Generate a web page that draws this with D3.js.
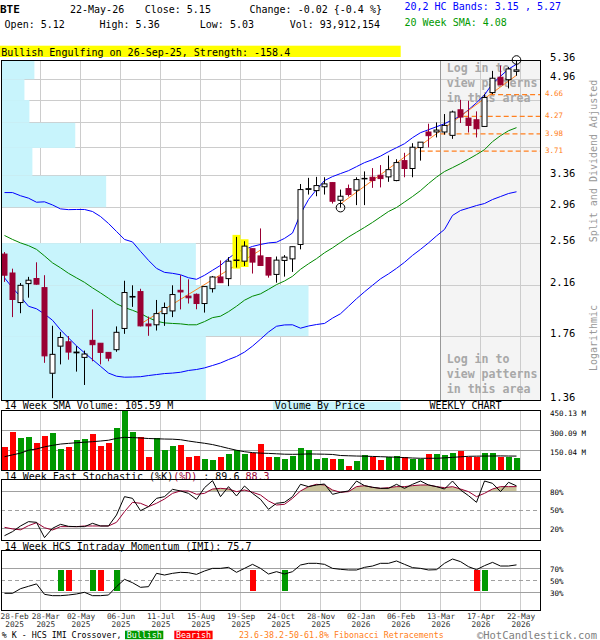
<!DOCTYPE html>
<html>
<head>
<meta charset="utf-8">
<script src="https://cdn.jsdelivr.net/npm/d3@7"></script>
<style>
  body { margin: 0; background: #fff; }
  svg { display: block; }
</style>
</head>
<body>
<script>
// Weekly bars, 28-Feb-2025 .. 22-May-2026 (65 weeks)
const opens  = [2.45, 2.27, 2.015, 2.175, 2.22, 2.14, 1.515, 1.69, 1.72, 1.645,
                1.615, 1.73, 1.71, 1.648, 1.666, 1.815, 2.06, 2.106, 1.848, 1.842,
                1.927, 1.948, 2.117, 2.068, 2.083, 2.007, 2.131, 2.234, 2.219, 2.39,
                2.381, 2.504, 2.432, 2.416, 2.257, 2.388, 2.403, 2.547, 3.18, 3.165,
                3.214, 3.269, 3.044, 3.191, 3.17, 3.32, 3.34, 3.367, 3.345, 3.296,
                3.572, 3.46, 3.765, 4.009, 4.01, 4.009, 3.955, 4.385, 4.24, 4.212,
                4.10, 4.70, 5.00, 4.95, 5.12];
const highs  = [2.47, 2.31, 2.18, 2.235, 2.37, 2.25, 1.835, 1.79, 1.76, 1.69,
                1.66, 1.96, 1.71, 1.65, 1.83, 2.20, 2.16, 2.13, 1.904, 2.036,
                2.015, 2.16, 2.25, 2.213, 2.09, 2.15, 2.243, 2.388, 2.42, 2.626,
                2.58, 2.505, 2.717, 2.417, 2.426, 2.44, 2.525, 3.25, 3.332, 3.345,
                3.34, 3.273, 3.178, 3.243, 3.34, 3.42, 3.466, 3.508, 3.645, 3.592,
                3.686, 3.832, 3.85, 4.145, 4.167, 4.31, 4.37, 4.565, 4.547, 4.357,
                4.67, 5.13, 5.24, 5.21, 5.36];
const lows   = [2.19, 1.90, 1.93, 2.055, 2.165, 1.58, 1.37, 1.57, 1.60, 1.525,
                1.445, 1.59, 1.57, 1.59, 1.652, 1.776, 1.98, 1.83, 1.762, 1.80,
                1.834, 1.90, 1.96, 2.007, 1.961, 1.935, 2.098, 2.18, 2.153, 2.32,
                2.335, 2.265, 2.335, 2.228, 2.183, 2.237, 2.28, 2.497, 3.115, 3.094,
                3.115, 3.004, 2.955, 3.09, 2.985, 2.985, 3.20, 3.206, 3.279, 3.287,
                3.34, 3.34, 3.572, 3.768, 3.922, 3.966, 3.90, 4.157, 4.00, 3.922,
                4.10, 4.67, 4.84, 4.78, 5.03];
const closes = [2.25, 2.04, 2.16, 2.205, 2.17, 1.625, 1.635, 1.75, 1.65, 1.65,
                1.637, 1.70, 1.648, 1.61, 1.787, 2.098, 2.065, 1.834, 1.834, 1.927,
                1.975, 2.081, 2.103, 2.054, 2.007, 2.149, 2.234, 2.183, 2.381, 2.392,
                2.53, 2.372, 2.34, 2.251, 2.391, 2.42, 2.524, 3.178, 3.19, 3.23,
                3.252, 3.032, 3.094, 3.115, 3.309, 3.325, 3.296, 3.322, 3.444, 3.544,
                3.46, 3.77, 3.848, 3.95, 4.04, 4.117, 4.346, 4.258, 4.117, 4.062,
                4.607, 4.98, 4.85, 5.17, 5.15];

// 20,2 HC bands and 20 week SMA
const bandUpper = [3.14, 3.14, 3.10, 3.07, 3.02, 3.025, 2.987, 2.94, 2.931, 2.933,
                   2.933, 2.909, 2.851, 2.772, 2.684, 2.599, 2.573, 2.477, 2.389, 2.313,
                   2.276, 2.267, 2.254, 2.227, 2.213, 2.249, 2.295, 2.341, 2.408, 2.467,
                   2.497, 2.527, 2.547, 2.563, 2.570, 2.610, 2.667, 2.88, 3.053, 3.178,
                   3.296, 3.349, 3.39, 3.43, 3.486, 3.543, 3.586, 3.637, 3.703, 3.763,
                   3.824, 3.918, 3.998, 4.046, 4.095, 4.145, 4.212, 4.272, 4.385, 4.51,
                   4.657, 4.873, 5.02, 5.166, 5.27];
const bandMid   = [2.641, 2.599, 2.563, 2.535, 2.497, 2.432, 2.365, 2.318, 2.267, 2.226,
                   2.186, 2.138, 2.095, 2.050, 2.005, 1.975, 1.953, 1.928, 1.895, 1.869,
                   1.856, 1.852, 1.849, 1.842, 1.842, 1.866, 1.896, 1.907, 1.942, 1.985,
                   2.034, 2.067, 2.087, 2.125, 2.166, 2.198, 2.240, 2.304, 2.356, 2.405,
                   2.463, 2.512, 2.568, 2.625, 2.676, 2.728, 2.784, 2.846, 2.909, 2.956,
                   3.022, 3.090, 3.165, 3.256, 3.342, 3.418, 3.472, 3.529, 3.593, 3.66,
                   3.733, 3.856, 3.95, 4.029, 4.08];
const bandLower = [2.226, 2.138, 2.063, 1.985, 1.965, 1.924, 1.876, 1.805, 1.747, 1.692,
                   1.645, 1.601, 1.558, 1.516, 1.497, 1.491, 1.492, 1.494, 1.501, 1.507,
                   1.513, 1.516, 1.521, 1.532, 1.538, 1.548, 1.563, 1.579, 1.601, 1.621,
                   1.650, 1.690, 1.738, 1.789, 1.831, 1.841, 1.842, 1.817, 1.833, 1.844,
                   1.852, 1.892, 1.926, 1.985, 2.046, 2.104, 2.160, 2.217, 2.262, 2.313,
                   2.37, 2.437, 2.497, 2.563, 2.636, 2.706, 2.863, 2.921, 2.95, 2.98,
                   3.004, 3.053, 3.09, 3.128, 3.15];

// volume in millions and its 14 week SMA
const volumes   = [177, 291, 245, 253, 207, 261, 283, 162, 177, 228,
                   238, 276, 185, 207, 321, 448, 291, 248, 101, 240,
                   152, 185, 192, 101, 106, 83.5, 76, 101, 121.5, 152,
                   121.5, 126.6, 197.4, 98.7, 98.7, 83.5, 108.9, 167, 152, 83.5,
                   91.1, 83.5, 83.5, 30.4, 68.3, 113.9, 96.2, 76, 96.2, 106.3,
                   96.2, 81, 81, 121.5, 121.5, 116.4, 129, 144.3, 98.7, 101,
                   132, 132, 101, 101, 94];
const volumeSma = [101, 115, 128, 150, 160, 176, 187, 197, 202, 207,
                   211, 215, 220, 226, 240, 248, 246, 243, 239, 237,
                   235, 234, 230, 220, 211, 203, 193, 179, 164, 150,
                   139, 132, 128, 126, 123, 120, 119, 120, 122, 121,
                   120, 118, 110, 108, 106, 105, 103, 101, 99, 97,
                   94, 91, 89, 89, 89, 92, 96, 100, 104, 105,
                   106, 106, 107, 106, 105.6];

// 14 week fast stochastic
const stochK = [7.9, 14.5, 23.8, 30.9, 29.8, 4.7, 20, 26.5, 23.2, 22.7,
                22.7, 28.2, 23.8, 23.8, 41.8, 71.9, 69.1, 48.9, 55.5, 69.1,
                71.9, 83.9, 81.2, 77.3, 67.5, 86.6, 98.1, 71.9, 88.3, 73,
                89.3, 77.3, 67.5, 51.1, 61, 62.6, 71.9, 92.1, 88.3, 91,
                92.6, 75.7, 79, 81.2, 97.5, 89.9, 87.2, 85.5, 85.5, 92.1,
                85.5, 92.1, 97.5, 91, 88.3, 84.4, 97.5, 82.8, 73.5, 62.6,
                97.5, 93.7, 80.1, 95.4, 89.6];
const stochD = [21.6, 19, 17.5, 24.3, 29.2, 21, 17.2, 22.7, 22.7, 22.7,
                23.8, 23.8, 23.8, 23.8, 29.8, 47.3, 62.6, 61, 55.5, 61,
                68, 77.3, 81.2, 81.2, 75.7, 77.3, 84.4, 85.5, 84.4, 80.1,
                82.8, 79, 74.6, 64.8, 58.2, 59.3, 69.1, 81.2, 88.3, 92.1,
                91, 82.8, 79, 80.1, 88.3, 89.9, 87.2, 85.5, 86.6, 88.3,
                88.3, 89.9, 91, 91, 88.3, 86.6, 88.3, 84.4, 80.1, 71.9,
                77.3, 84.4, 88.3, 88.3, 88.3];

// 14 week HCS intraday momentum
const imi = [28.3, 28.3, 36, 40, 44, 26.6, 24.4, 24.4, 25.5, 27.2,
             30, 24.4, 24.4, 25.5, 39.4, 51.6, 46, 38.3, 39.4, 61.6,
             58.8, 61.6, 63.3, 62.7, 59.9, 65.5, 69.9, 69.9, 71.6, 63.3,
             69.9, 76.6, 69.9, 60.5, 64.4, 60.5, 64.4, 75.5, 78.3, 78.3,
             76.6, 69.9, 68.3, 67.2, 67.2, 71.6, 73.8, 78.3, 78.3, 82.2,
             76.6, 71.1, 69.9, 67.2, 67.7, 78.3, 85.5, 81.1, 72.7, 67.7,
             74.4, 79.9, 73.8, 73.8, 75.7];
const bullishCross = [7, 11, 14, 35, 60];
const bearishCross = [8, 12, 31, 59];

// axis ticks
const tickIdx   = [0, 4, 9, 14, 19, 24, 29, 34, 39, 44, 49, 54, 59, 64];
const tickDay   = ["28-Feb", "28-Mar", "02-May", "06-Jun", "11-Jul", "15-Aug", "19-Sep",
                   "24-Oct", "28-Nov", "02-Jan", "06-Feb", "13-Mar", "17-Apr", "22-May"];
const tickYear  = ["2025", "2025", "2025", "2025", "2025", "2025", "2025",
                   "2025", "2025", "2026", "2026", "2026", "2026", "2026"];
const priceGrid   = [4.96, 4.56, 4.16, 3.76, 3.36, 2.96, 2.56, 2.16, 1.76];
const priceLabels = [5.36, 4.96, 3.36, 2.96, 2.56, 2.16, 1.76, 1.36];

// fibonacci retracement, trend lines, pattern
const fibLevels = [4.66, 4.27, 3.98, 3.71];
const fibStart  = [60.7, 57.4, 54.5, 51.9];
const trendLines = [[17, 1.848, 32, 2.49], [42, 3.0, 64, 5.04]];
const anchors = [[42, 2.955], [64, 5.36]];
const patternIdx = [29, 30];
const hiddenFrom = 54;

// volume by price (relative), bins of 0.40
const vbpEdges  = [1.36, 1.76, 2.16, 2.56, 2.96, 3.36, 3.76, 4.16, 4.56, 4.96, 5.36];
const vbpVolume = [205, 308, 195, 0, 105, 31, 74, 28, 23, 33];

const FONT = "'DejaVu Sans Mono', monospace";
const MAROON = '#990033', GREEN = '#009900', RED = '#ff0000';

let width = 600, height = 640;
let svg = d3.select('body').append('svg')
    .attr('width', width)
    .attr('height', height)
    .attr('font-family', FONT);

function label(g, x, y, s, size, fill, weight) {
  return g.append('text').attr('x', x).attr('y', y)
      .attr('font-size', size).attr('fill', fill || '#000')
      .attr('font-weight', weight || null).text(s);
}

// scales
const x = d3.scaleLinear().domain([0, 64]).range([4.5, 516.5]);
const gridX = k => x(k) + 4;
const yP = d3.scaleLog().domain([1.36, 5.36]).range([400, 60]);
const yV = d3.scaleLinear().domain([0, 450.13]).range([470, 410.7]);
const yS = d3.scaleLinear().domain([0, 100]).range([540.5, 479.5]);
const yI = d3.scaleLinear().domain([0, 100]).range([610.3, 550.3]);
const vbpX = d3.scaleLinear().domain([0, d3.max(vbpVolume)]).range([0, 307]);

// header
label(svg, 0, 13, 'BTE', 11, '#000', 'bold');
label(svg, 70, 13, '22-May-26', 10);
label(svg, 144.7, 13, 'Close: 5.15', 10);
label(svg, 249.5, 13, 'Change: -0.02 {-0.4 %}', 10);
label(svg, 4.6, 27.6, 'Open: 5.12', 10);
label(svg, 99.5, 27.6, 'High: 5.36', 10);
label(svg, 199.8, 27.6, 'Low: 5.03', 10);
label(svg, 289.7, 27.6, 'Vol: 93,912,154', 10);
label(svg, 404.5, 10.4, '20,2 HC Bands: 3.15 , 5.27', 10, '#0000ff');
label(svg, 404.5, 25.6, '20 Week SMA: 4.08', 10, GREEN);

svg.append('rect').attr('x', 0).attr('y', 45.7).attr('width', 400.7).attr('height', 11.3)
    .attr('fill', '#ffff00');
label(svg, 1.2, 55.6, 'Bullish Engulfing on 26-Sep-25, Strength: -158.4', 10);

// ---------- price panel ----------
const pg = svg.append('g');
const pLeft = 1, pRight = 540;

pg.append('rect').attr('x', gridX(hiddenFrom)).attr('y', yP(5.36))
    .attr('width', pRight - gridX(hiddenFrom)).attr('height', yP(1.36) - yP(5.36))
    .attr('fill', '#f4f4f4');

pg.selectAll('.hgrid').data(priceGrid).enter().append('line')
    .attr('x1', pLeft).attr('x2', pRight)
    .attr('y1', d => yP(d)).attr('y2', d => yP(d))
    .attr('stroke', '#cccccc').attr('shape-rendering', 'crispEdges');
pg.selectAll('.vgrid').data(tickIdx.slice(1)).enter().append('line')
    .attr('x1', d => gridX(d)).attr('x2', d => gridX(d))
    .attr('y1', yP(5.36)).attr('y2', yP(1.36))
    .attr('stroke', '#cccccc').attr('shape-rendering', 'crispEdges');

// volume by price
pg.selectAll('.vbp').data(vbpVolume).enter().append('rect')
    .attr('x', 1.5)
    .attr('y', (d, i) => yP(vbpEdges[i + 1]))
    .attr('width', d => vbpX(d))
    .attr('height', (d, i) => yP(vbpEdges[i]) - yP(vbpEdges[i + 1]))
    .attr('fill', '#c8f4fc');

pg.append('line').attr('x1', gridX(hiddenFrom)).attr('x2', gridX(hiddenFrom))
    .attr('y1', yP(5.36)).attr('y2', yP(1.36)).attr('stroke', '#999')
    .attr('shape-rendering', 'crispEdges');

['Log in to', 'view patterns', 'in this area'].forEach((s, i) => {
  label(pg, 446.7, 71.5 + i * 15, s, 11.6, '#a8a8a8', 'bold');
  label(pg, 446.7, 363.2 + i * 15, s, 11.6, '#a8a8a8', 'bold');
});

// bands
const priceLine = d3.line().x((d, i) => x(i)).y(d => yP(d));
pg.append('path').attr('d', priceLine(bandUpper)).attr('fill', 'none').attr('stroke', '#0000ff');
pg.append('path').attr('d', priceLine(bandLower)).attr('fill', 'none').attr('stroke', '#0000ff');
pg.append('path').attr('d', priceLine(bandMid)).attr('fill', 'none').attr('stroke', '#008800');

// fibonacci lines
pg.selectAll('.fib').data(fibLevels).enter().append('line')
    .attr('x1', (d, i) => x(fibStart[i])).attr('x2', pRight)
    .attr('y1', d => yP(d)).attr('y2', d => yP(d))
    .attr('stroke', '#ff8020').attr('stroke-width', 1.3).attr('stroke-dasharray', '5,3');
fibLevels.forEach(d => label(pg, 545, yP(d) + 1.8, d.toFixed(2), 7.5, '#ff8020'));

// trend lines
pg.selectAll('.trend').data(trendLines).enter().append('line')
    .attr('x1', d => x(d[0])).attr('y1', d => yP(d[1]))
    .attr('x2', d => x(d[2])).attr('y2', d => yP(d[3]))
    .attr('stroke', '#ff8020');

// pattern highlight
pg.selectAll('.pat').data(patternIdx).enter().append('rect')
    .attr('x', d => x(d) - 4).attr('width', 8)
    .attr('y', d => yP(highs[d]) - 2)
    .attr('height', d => yP(lows[d]) - yP(highs[d]) + 3)
    .attr('fill', '#ffff00');

// candles
const idx = d3.range(closes.length);
const up = i => closes[i] >= opens[i];
pg.selectAll('.wick').data(idx).enter().append('line')
    .attr('x1', i => x(i)).attr('x2', i => x(i))
    .attr('y1', i => yP(highs[i])).attr('y2', i => yP(lows[i]))
    .attr('stroke', i => up(i) ? '#000' : MAROON);
pg.selectAll('.body').data(idx).enter().append('rect')
    .attr('x', i => x(i) - 2.5).attr('width', 5)
    .attr('y', i => yP(Math.max(opens[i], closes[i])))
    .attr('height', i => Math.max(0.5, yP(Math.min(opens[i], closes[i])) - yP(Math.max(opens[i], closes[i]))))
    .attr('fill', i => up(i) ? '#fff' : MAROON)
    .attr('stroke', i => up(i) ? '#000' : MAROON);

pg.selectAll('.anchor').data(anchors).enter().append('circle')
    .attr('cx', d => x(d[0])).attr('cy', d => yP(d[1])).attr('r', 4.3)
    .attr('fill', 'none').attr('stroke', '#000');

pg.append('rect').attr('x', pLeft).attr('y', yP(5.36))
    .attr('width', pRight - pLeft).attr('height', yP(1.36) - yP(5.36))
    .attr('fill', 'none').attr('stroke', '#000').attr('shape-rendering', 'crispEdges');

// price axis
let pAxis = svg.append('g').attr('transform', 'translate(550,0)')
    .call(d3.axisRight(yP).tickValues(priceLabels).tickFormat(d3.format('.2f'))
      .tickSize(0).tickPadding(0));
pAxis.select('.domain').remove();
pAxis.attr('font-family', FONT).attr('font-size', 10.5);
pAxis.selectAll('text').attr('dy', null).attr('y', 0.5).attr('fill', '#000');

svg.append('text').attr('transform', 'translate(597,161) rotate(-90)')
    .attr('text-anchor', 'middle').attr('font-size', 10).attr('fill', '#999')
    .text('Split and Dividend Adjusted');
svg.append('text').attr('transform', 'translate(597,338) rotate(-90)')
    .attr('text-anchor', 'middle').attr('font-size', 10).attr('fill', '#999')
    .text('Logarithmic');

// ---------- lower panels ----------
function panel(top, bottom) {
  const g = svg.append('g');
  g.selectAll('.vgrid').data(tickIdx.slice(1)).enter().append('line')
      .attr('x1', d => gridX(d)).attr('x2', d => gridX(d))
      .attr('y1', top).attr('y2', bottom)
      .attr('stroke', '#cccccc').attr('shape-rendering', 'crispEdges');
  return g;
}
function hline(g, y, dashed) {
  g.append('line').attr('x1', 1).attr('x2', 540).attr('y1', y).attr('y2', y)
      .attr('stroke', '#a0a0a0').attr('stroke-dasharray', dashed ? '4,3' : null)
      .attr('shape-rendering', 'crispEdges');
}
function frame(g, top, bottom) {
  g.append('rect').attr('x', 1).attr('y', top).attr('width', 539).attr('height', bottom - top)
      .attr('fill', 'none').attr('stroke', '#000').attr('shape-rendering', 'crispEdges');
}
function rightAxis(scale, values, fmt, dy) {
  const a = svg.append('g').attr('transform', 'translate(550,0)')
      .call(d3.axisRight(scale).tickValues(values).tickFormat(fmt).tickSize(0).tickPadding(0));
  a.select('.domain').remove();
  a.attr('font-family', FONT).attr('font-size', 7.5);
  a.selectAll('text').attr('dy', null).attr('y', dy).attr('fill', '#000');
}

// volume
label(svg, 4.6, 409.3, '14 Week SMA Volume: 105.59 M', 10);
svg.append('rect').attr('x', 272.9).attr('y', 401.7).attr('width', 127.8).attr('height', 8.3)
    .attr('fill', '#c8f4fc');
label(svg, 274.8, 409.3, 'Volume By Price', 10);
label(svg, 429.4, 409.3, 'WEEKLY CHART', 10);

const vg = panel(yV(450.13), yV(0));
[150.04, 300.09].forEach(v => hline(vg, yV(v)));
vg.selectAll('.vol').data(volumes).enter().append('rect')
    .attr('x', (d, i) => x(i) - 3).attr('width', 6)
    .attr('y', d => yV(d)).attr('height', d => yV(0) - yV(d))
    .attr('fill', (d, i) => up(i) ? GREEN : RED)
    .attr('shape-rendering', 'crispEdges');
vg.append('path').attr('d', d3.line().x((d, i) => x(i)).y(d => yV(d))(volumeSma))
    .attr('fill', 'none').attr('stroke', '#000');
frame(vg, yV(450.13), yV(0));
rightAxis(yV, [150.04, 300.09, 450.13], d => d.toFixed(2) + ' M', 4.7);

// stochastic
const st = label(svg, 4.6, 479.6, '', 10);
st.append('tspan').text('14 Week Fast Stochastic (%K)');
st.append('tspan').attr('fill', MAROON).text('(%D)');
st.append('tspan').text(' : 89.6 ');
st.append('tspan').attr('fill', MAROON).text('88.3');

const sg = panel(yS(100), yS(0));
sg.append('path')
    .attr('d', d3.area().x((d, i) => x(i)).y0(yS(80)).y1(d => yS(Math.max(d, 80)))(stochD))
    .attr('fill', '#c9c39b');
sg.append('path')
    .attr('d', d3.area().x((d, i) => x(i)).y0(yS(20)).y1(d => yS(Math.min(d, 20)))(stochD))
    .attr('fill', '#c9c39b');
hline(sg, yS(80)); hline(sg, yS(50), true); hline(sg, yS(20));
const sLine = d3.line().x((d, i) => x(i)).y(d => yS(d));
sg.append('path').attr('d', sLine(stochD)).attr('fill', 'none').attr('stroke', MAROON);
sg.append('path').attr('d', sLine(stochK)).attr('fill', 'none').attr('stroke', '#000');
frame(sg, yS(100), yS(0));
rightAxis(yS, [80, 50, 20], d => d + '%', 2.7);

// IMI
label(svg, 4.6, 549.6, '14 Week HCS Intraday Momentum (IMI): 75.7', 10);
const ig = panel(yI(100), yI(0));
hline(ig, yI(70)); hline(ig, yI(50), true); hline(ig, yI(30));
ig.selectAll('.bull').data(bullishCross).enter().append('rect')
    .attr('x', d => x(d) - 3).attr('width', 6)
    .attr('y', yI(68)).attr('height', yI(32) - yI(68))
    .attr('fill', GREEN).attr('shape-rendering', 'crispEdges');
ig.selectAll('.bear').data(bearishCross).enter().append('rect')
    .attr('x', d => x(d) - 3).attr('width', 6)
    .attr('y', yI(68)).attr('height', yI(32) - yI(68))
    .attr('fill', RED).attr('shape-rendering', 'crispEdges');
ig.append('path').attr('d', d3.line().x((d, i) => x(i)).y(d => yI(d))(imi))
    .attr('fill', 'none').attr('stroke', '#000');
frame(ig, yI(100), yI(0));
rightAxis(yI, [70, 50, 30], d => d + '%', 2.7);

// date axis: day and year rows; labels are pushed right when they would collide
const dateSize = 7.8, labelW = 6 * 0.602 * dateSize;
function dateRow(rows, yOff) {
  const a = svg.append('g').attr('transform', `translate(4,${yOff})`)
      .call(d3.axisBottom(x).tickValues(tickIdx).tickSize(0).tickFormat((d, i) => rows[i]));
  a.select('.domain').remove();
  a.attr('font-family', FONT).attr('font-size', dateSize);
  let prevRight = -Infinity;
  a.selectAll('.tick text').each(function(d) {
    const c = gridX(d);
    const left = Math.max(c - labelW / 2, prevRight + 3, 0);
    prevRight = left + labelW;
    d3.select(this).attr('dy', null).attr('y', 0).attr('fill', '#333')
        .attr('x', left + labelW / 2 - c);
  });
}
dateRow(tickDay, 618.6);
dateRow(tickYear, 627.4);

// legend row
label(svg, 1.7, 638, '% K - HCS IMI Crossover,', 8.3);
svg.append('rect').attr('x', 125).attr('y', 630.7).attr('width', 38.3).attr('height', 8.5).attr('fill', GREEN);
label(svg, 144.2, 638, 'Bullish', 8.3, '#fff').attr('text-anchor', 'middle');
svg.append('rect').attr('x', 174.3).attr('y', 630.7).attr('width', 38.3).attr('height', 8.5).attr('fill', RED);
label(svg, 193.5, 638, 'Bearish', 8.3, '#fff').attr('text-anchor', 'middle');
label(svg, 239, 638, '23.6-38.2-50-61.8% Fibonacci Retracements', 8.3, '#ff8020');
label(svg, 597, 638.5, '\u00a9HotCandlestick.com', 10.5, '#808080').attr('text-anchor', 'end');
</script>
</body>
</html>
